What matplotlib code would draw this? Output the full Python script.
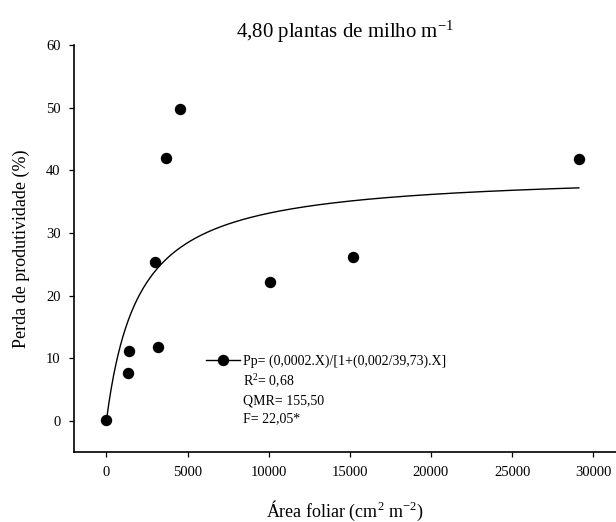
import numpy as np
import matplotlib
matplotlib.use("Agg")
import matplotlib.pyplot as plt
from matplotlib.lines import Line2D

area_foliar = [0, 1353, 1414, 2974, 3155, 3699, 4551, 10058, 15184, 29110]
perda = [0.1, 7.6, 11.2, 25.4, 11.8, 42.0, 49.8, 22.2, 26.2, 41.8]

# rectangular hyperbola parameters (curve drawn in the figure)
i_param = 0.02
a_param = 39.73

legend_lines = ["Pp= (0,0002.X)/[1+(0,002/39,73).X]",
                r"R$^{\mathrm{2}}$= 0,68",
                "QMR= 155,50",
                "F= 22,05*"]

plt.rcParams['font.family'] = ['Liberation Serif', 'DejaVu Serif']
plt.rcParams['mathtext.fontset'] = 'custom'
plt.rcParams['mathtext.rm'] = 'Liberation Serif'
plt.rcParams['mathtext.it'] = 'Liberation Serif:italic'

fig = plt.figure(figsize=(6.16, 5.22), dpi=100)
ax = fig.add_axes([0.120, 0.1335, 0.880, 0.7805])

xc = np.linspace(0, max(area_foliar), 400)
yc = i_param * xc / (1 + i_param / a_param * xc)
ax.plot(xc, yc, color='black', lw=1.0, zorder=2)
ax.plot(area_foliar, perda, 'o', color='black', ms=7.2, zorder=3)

ax.set_xlim(-2000, 31400)
ax.set_ylim(-5, 60)
ax.set_xticks([0, 5000, 10000, 15000, 20000, 25000, 30000])
ax.set_yticks([0, 10, 20, 30, 40, 50, 60])

for s in ['top', 'right']:
    ax.spines[s].set_visible(False)
for s in ['left', 'bottom']:
    ax.spines[s].set_linewidth(1.2)
ax.tick_params(direction='out', length=3.6, width=0.9, labelsize=10.5, pad=6)

ax.set_title(r"4,80 plantas de milho m$^{\mathrm{-1}}$", fontsize=15, pad=4)
ax.set_xlabel(r"Área foliar (cm$^{\mathrm{2}}$ m$^{\mathrm{-2}}$)", fontsize=13)
ax.set_ylabel("Perda de produtividade (%)", fontsize=13)
ax.xaxis.set_label_coords(0.5, -0.115)
ax.yaxis.set_label_coords(-0.081, 0.5)

handles = [Line2D([], [], color='black', lw=1.0, marker='o', ms=7.2)]
handles += [Line2D([], [], linestyle='none') for _ in legend_lines[1:]]
ax.legend(handles, legend_lines, loc='upper left', bbox_to_anchor=(0.243, 0.24),
          frameon=False, fontsize=10, borderpad=0, borderaxespad=0,
          handlelength=2.5, handletextpad=0.2, labelspacing=0.33)

fig.savefig("out.png", dpi=100)
